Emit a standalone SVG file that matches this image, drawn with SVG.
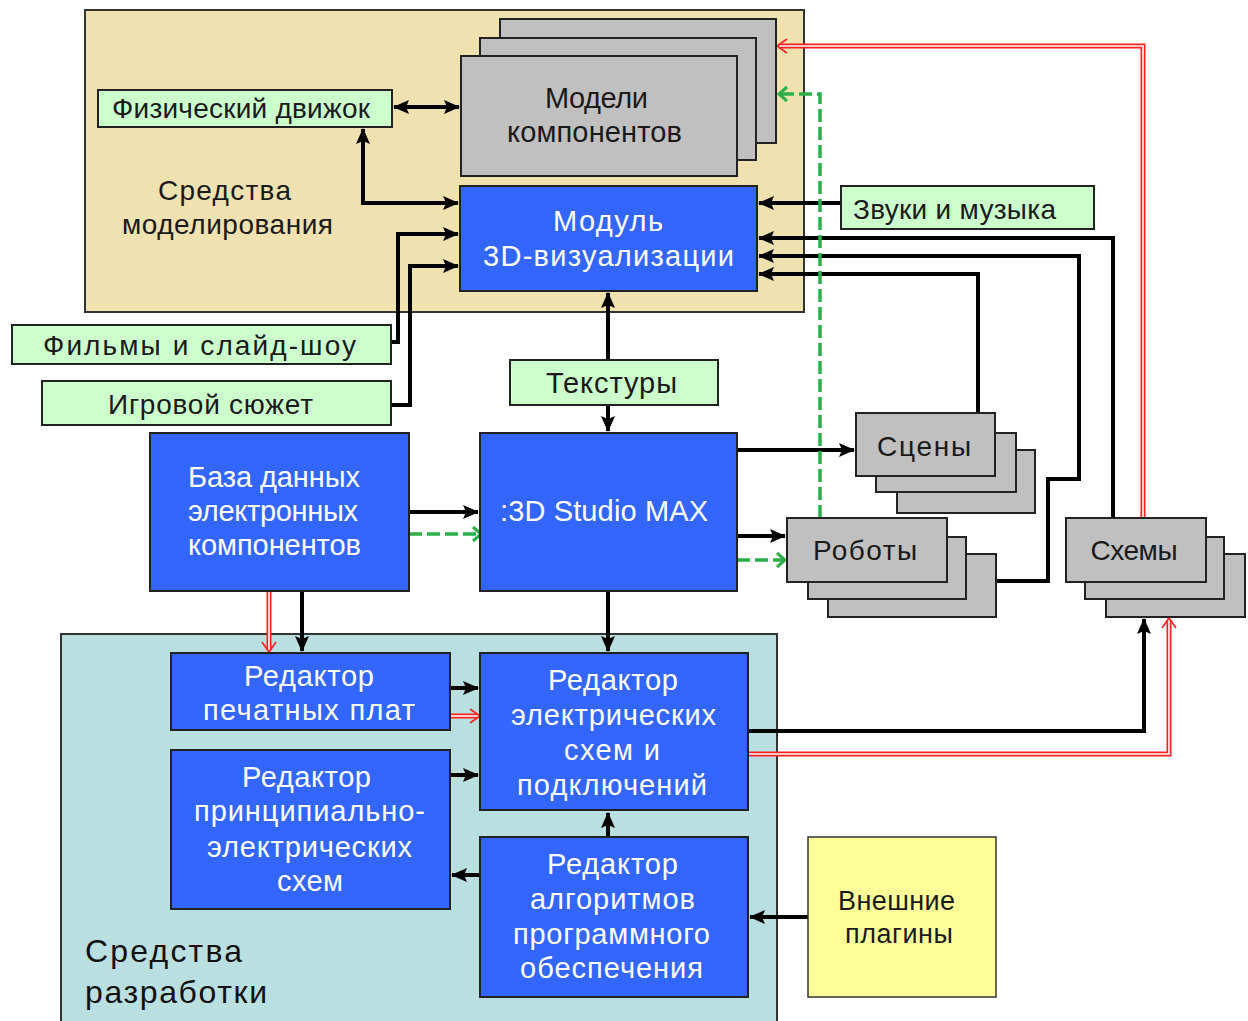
<svg xmlns="http://www.w3.org/2000/svg" width="1248" height="1021" viewBox="0 0 1248 1021">
<style>
.cont{stroke:#333;stroke-width:2}
.blue{fill:#3366FF;stroke:#222;stroke-width:2}
.gray{fill:#C0C0C0;stroke:#222;stroke-width:2}
.lg{fill:#CCFFCC;stroke:#222;stroke-width:2}
.yel{fill:#FFFF99;stroke:#333;stroke-width:1.5}
text{font-family:"Liberation Sans",Arial,sans-serif;text-anchor:middle}
.wt{fill:#FFFFFF;font-size:29px}
.bt{fill:#1a1a1a;font-size:27px}
.c{fill:none;stroke:#000;stroke-width:4;marker-end:url(#ah)}
.g{fill:none;stroke:#2BB04A;stroke-width:3.5;stroke-dasharray:13 5}
.gh{fill:none;stroke:#2BB04A;stroke-width:3}
.rr{fill:none;stroke:#FF2020;stroke-width:5}
.rw{fill:none;stroke:#FFFFFF;stroke-width:1.6}
.rh{fill:none;stroke:#FF2020;stroke-width:1.6}
</style>
<defs>
<marker id="ah" markerUnits="userSpaceOnUse" markerWidth="16" markerHeight="14" refX="15" refY="7" orient="auto-start-reverse">
<path d="M0,0 L16,7 L0,14 L3,7 Z" fill="#000"/>
</marker>
</defs>
<rect width="1248" height="1021" fill="#FFFFFF"/>

<g id="modelling-area">
<rect x="85" y="10" width="719" height="302" fill="#EFE1B0" class="cont"/>
<text class="bt" x="224.5" y="200" style="font-size:28px" textLength="133" lengthAdjust="spacing">Средства</text>
<text class="bt" x="227.5" y="234" style="font-size:28px" textLength="211" lengthAdjust="spacing">моделирования</text>
</g>
<g id="development-area">
<rect x="61" y="634" width="716" height="395" fill="#BADFE0" class="cont"/>
<text x="85" y="962" style="font-size:32px;fill:#111;text-anchor:start" textLength="157" lengthAdjust="spacing">Средства</text>
<text x="85" y="1003" style="font-size:32px;fill:#111;text-anchor:start" textLength="182" lengthAdjust="spacing">разработки</text>
</g>

<g id="connectors">
<line class="c" x1="394" y1="107" x2="459" y2="107" marker-start="url(#ah)"/>
<path class="c" d="M458,203 H363 V129" marker-start="url(#ah)"/>
<path class="c" d="M391,342 H398 V234 H458"/>
<path class="c" d="M391,405 H410 V266 H458"/>
<path class="c" d="M841,203 H759"/>
<path class="c" d="M1113,518 V238 H759"/>
<path class="c" d="M996,581 H1048 V479 H1079 V256 H759"/>
<path class="c" d="M978,413 V274 H759"/>
<path class="c" d="M608,360 V293"/>
<path class="c" d="M608,405 V431"/>
<path class="c" d="M409,512 H478"/>
<path class="c" d="M737,450 H854"/>
<path class="c" d="M737,536 H785"/>
<path class="c" d="M302,591 V651"/>
<path class="c" d="M608,591 V651"/>
<path class="c" d="M450,688 H478"/>
<path class="c" d="M450,775 H478"/>
<path class="c" d="M608,837 V813"/>
<path class="c" d="M480,875 H452"/>
<path class="c" d="M808,917 H750"/>
<path class="c" d="M748,731 H1144 V619"/>
<path class="g" d="M409,534 H480"/>
<polyline class="gh" points="473,527 481,534 473,541"/>
<path class="g" d="M737,560 H784"/>
<polyline class="gh" points="777,553 785,560 777,567"/>
<path class="g" d="M820,518 V94 H780"/>
<polyline class="gh" points="787,87 779,94 787,101"/>
<path class="rr" d="M269,591 V650"/><path class="rw" d="M269,591 V650"/>
<polyline class="rh" points="262,642 269,652 276,642"/>
<path class="rr" d="M450,716 H478"/><path class="rw" d="M450,716 H478"/>
<polyline class="rh" points="470,709 480,716 470,723"/>
<path class="rr" d="M748,754 H1169 V620"/><path class="rw" d="M748,754 H1169 V620"/>
<polyline class="rh" points="1162,628 1169,618 1176,628"/>
<path class="rr" d="M1143,518 V46 H779"/><path class="rw" d="M1143,518 V46 H779"/>
<polyline class="rh" points="787,39 777,46 787,53"/>
</g>

<g id="models">
<rect class="gray" x="500" y="19" width="276" height="124"/>
<rect class="gray" x="480" y="38" width="276" height="122"/>
<rect class="gray" x="461" y="56" width="276" height="120"/>
<text class="bt" x="596.5" y="108" style="font-size:29px" textLength="103" lengthAdjust="spacing">Модели</text>
<text class="bt" x="594.5" y="142" style="font-size:29px" textLength="175" lengthAdjust="spacing">компонентов</text>
</g>
<g id="physics">
<rect class="lg" x="98" y="90" width="294" height="37"/>
<text class="bt" x="241" y="118" style="font-size:28px" textLength="258" lengthAdjust="spacing">Физический движок</text>
</g>
<g id="vis-module">
<rect class="blue" x="460" y="186" width="297" height="105"/>
<text class="wt" x="608" y="231" textLength="110" lengthAdjust="spacing">Модуль</text>
<text class="wt" x="608.5" y="266" textLength="251" lengthAdjust="spacing">3D-визуализации</text>
</g>
<g id="sounds">
<rect class="lg" x="841" y="186" width="253" height="43"/>
<text class="bt" x="954.5" y="219" style="font-size:28px" textLength="203" lengthAdjust="spacing">Звуки и музыка</text>
</g>
<g id="films">
<rect class="lg" x="12" y="325" width="379" height="39"/>
<text class="bt" x="199.5" y="355" style="font-size:28px" textLength="313" lengthAdjust="spacing">Фильмы и слайд-шоу</text>
</g>
<g id="plot">
<rect class="lg" x="42" y="381" width="349" height="44"/>
<text class="bt" x="210.5" y="414" style="font-size:28px" textLength="205" lengthAdjust="spacing">Игровой сюжет</text>
</g>
<g id="textures">
<rect class="lg" x="510" y="360" width="208" height="45"/>
<text class="bt" x="611.5" y="393" style="font-size:29px" textLength="131" lengthAdjust="spacing">Текстуры</text>
</g>
<g id="database">
<rect class="blue" x="150" y="433" width="259" height="158"/>
<text class="wt" x="274" y="487" textLength="172" lengthAdjust="spacing">База данных</text>
<text class="wt" x="273" y="521" textLength="170" lengthAdjust="spacing">электронных</text>
<text class="wt" x="274.5" y="555" textLength="173" lengthAdjust="spacing">компонентов</text>
</g>
<g id="studio">
<rect class="blue" x="480" y="433" width="257" height="158"/>
<text class="wt" x="604" y="521" textLength="208" lengthAdjust="spacing">:3D Studio MAX</text>
</g>
<g id="scenes">
<rect class="gray" x="897" y="450" width="138" height="63"/>
<rect class="gray" x="876" y="433" width="140" height="59"/>
<rect class="gray" x="856" y="413" width="139" height="63"/>
<text class="bt" x="924" y="456" style="font-size:28px" textLength="94" lengthAdjust="spacing">Сцены</text>
</g>
<g id="robots">
<rect class="gray" x="828" y="554" width="168" height="63"/>
<rect class="gray" x="808" y="537" width="158" height="62"/>
<rect class="gray" x="787" y="518" width="160" height="64"/>
<text class="bt" x="865" y="560" style="font-size:28px" textLength="104" lengthAdjust="spacing">Роботы</text>
</g>
<g id="schemes">
<rect class="gray" x="1106" y="554" width="139" height="63"/>
<rect class="gray" x="1085" y="537" width="139" height="62"/>
<rect class="gray" x="1066" y="518" width="140" height="64"/>
<text class="bt" x="1134" y="560" style="font-size:28px" textLength="87" lengthAdjust="spacing">Схемы</text>
</g>
<g id="pcb-editor">
<rect class="blue" x="171" y="653" width="279" height="77"/>
<text class="wt" x="309" y="686" textLength="130" lengthAdjust="spacing">Редактор</text>
<text class="wt" x="309" y="720" textLength="212" lengthAdjust="spacing">печатных плат</text>
</g>
<g id="schematic-editor">
<rect class="blue" x="171" y="750" width="279" height="159"/>
<text class="wt" x="306.5" y="787" textLength="129" lengthAdjust="spacing">Редактор</text>
<text class="wt" x="309.5" y="821" textLength="231" lengthAdjust="spacing">принципиально-</text>
<text class="wt" x="309.5" y="857" textLength="205" lengthAdjust="spacing">электрических</text>
<text class="wt" x="310" y="891" textLength="66" lengthAdjust="spacing">схем</text>
</g>
<g id="circuit-editor">
<rect class="blue" x="480" y="653" width="268" height="157"/>
<text class="wt" x="613" y="690" textLength="130" lengthAdjust="spacing">Редактор</text>
<text class="wt" x="613.5" y="725" textLength="205" lengthAdjust="spacing">электрических</text>
<text class="wt" x="612" y="760" textLength="96" lengthAdjust="spacing">схем и</text>
<text class="wt" x="612" y="795" textLength="190" lengthAdjust="spacing">подключений</text>
</g>
<g id="algo-editor">
<rect class="blue" x="480" y="837" width="268" height="160"/>
<text class="wt" x="612.5" y="874" textLength="131" lengthAdjust="spacing">Редактор</text>
<text class="wt" x="612.5" y="909" textLength="165" lengthAdjust="spacing">алгоритмов</text>
<text class="wt" x="611.5" y="944" textLength="197" lengthAdjust="spacing">программного</text>
<text class="wt" x="611.5" y="978" textLength="183" lengthAdjust="spacing">обеспечения</text>
</g>
<g id="plugins">
<rect class="yel" x="808" y="837" width="188" height="160"/>
<text class="bt" x="896.5" y="910" style="font-size:27px" textLength="117" lengthAdjust="spacing">Внешние</text>
<text class="bt" x="899" y="943" style="font-size:27px" textLength="108" lengthAdjust="spacing">плагины</text>
</g>
</svg>
